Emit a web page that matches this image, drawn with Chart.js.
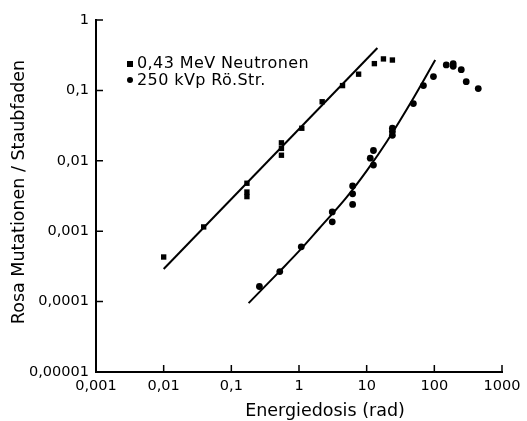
<!DOCTYPE html>
<html><head><meta charset="utf-8">
<script src="https://cdn.jsdelivr.net/npm/chart.js@4"></script>
<style>html,body{margin:0;padding:0;background:#fff}#c{display:block}</style>
</head><body>
<canvas id="c" width="527" height="421"></canvas>
<script>
const FONT = "'DejaVu Sans', sans-serif";
const xTicks = [0.001, 0.01, 0.1, 1, 10, 100, 1000];
const xTickLabels = ['0,001', '0,01', '0,1', '1', '10', '100', '1000'];
const yTicks = [0.00001, 0.0001, 0.001, 0.01, 0.1, 1];
const yTickLabels = ['0,00001', '0,0001', '0,001', '0,01', '0,1', '1'];

const neutronDose = [0.01, 0.039, 0.17, 0.17, 0.17, 0.55, 0.55, 0.55, 1.1, 2.2, 4.4, 7.6, 13, 17.7, 24];
const neutronMut  = [0.00043, 0.00115, 0.0048, 0.0036, 0.0031, 0.018, 0.015, 0.012, 0.029, 0.069, 0.117, 0.17, 0.24, 0.28, 0.27];

const xrayDose = [0.26, 0.52, 1.08, 3.1, 3.1, 6.2, 6.2, 6.2, 11.3, 12.6, 12.6, 24, 24, 24, 49, 69, 97, 150, 190, 190, 250, 296, 446];
const xrayMut  = [0.000164, 0.000267, 0.0006, 0.00188, 0.00136, 0.0044, 0.0034, 0.0024, 0.0109, 0.014, 0.0087, 0.029, 0.026, 0.023, 0.065, 0.117, 0.157, 0.23, 0.24, 0.22, 0.197, 0.133, 0.106];

const neutronFitDose = [0.01, 14.4];
const neutronFitMut  = [0.00029, 0.40];
const xrayFitDose = [0.18, 0.5, 1, 2, 5, 10, 20, 50, 103];
const xrayFitMut  = [0.000095, 0.00026, 0.00052, 0.0011, 0.003, 0.0072, 0.019, 0.08, 0.27];

const legendLabels = ['0,43 MeV Neutronen', '250 kVp Rö.Str.'];
const xTitle = 'Energiedosis (rad)';
const yTitle = 'Rosa Mutationen / Staubfaden';

const pts = (xs, ys) => xs.map((x, i) => ({x, y: ys[i]}));

const decor = {
  id: 'decor',
  afterDraw(chart) {
    const ctx = chart.ctx, xs = chart.scales.x, ys = chart.scales.y;
    const a = chart.chartArea;
    ctx.save();
    ctx.strokeStyle = '#000'; ctx.lineWidth = 1.5;
    ctx.beginPath();
    xTicks.forEach(v => { if (v === xTicks[0]) return; const p = xs.getPixelForValue(v); ctx.moveTo(p, a.bottom); ctx.lineTo(p, a.bottom - 7); });
    yTicks.forEach(v => { if (v === yTicks[0]) return; const p = ys.getPixelForValue(v); ctx.moveTo(a.left, p); ctx.lineTo(a.left + 7, p); });
    ctx.stroke();
    ctx.fillStyle = '#000';
    // legend
    ctx.font = '16px ' + FONT;
    try { ctx.letterSpacing = '0.4px'; } catch (e) {}
    ctx.textBaseline = 'alphabetic';
    ctx.textAlign = 'left';
    ctx.fillRect(127, 61, 6, 6);
    ctx.fillText(legendLabels[0], 137, 68);
    ctx.beginPath(); ctx.arc(130, 80, 3, 0, Math.PI * 2); ctx.fill();
    ctx.fillText(legendLabels[1], 137, 85);
    // axis titles
    ctx.font = '17.5px ' + FONT;
    try { ctx.letterSpacing = '0px'; } catch (e) {}
    ctx.textAlign = 'center';
    ctx.fillText(xTitle, 325, 416);
    ctx.translate(24, 192);
    ctx.rotate(-Math.PI / 2);
    ctx.fillText(yTitle, 0, 0);
    ctx.restore();
  }
};

new Chart(document.getElementById('c'), {
  type: 'scatter',
  data: {
    datasets: [
      { data: pts(neutronFitDose, neutronFitMut), showLine: true, borderColor: '#000', borderWidth: 2, pointRadius: 0 },
      { data: pts(xrayFitDose, xrayFitMut), showLine: true, borderColor: '#000', borderWidth: 2, pointRadius: 0, cubicInterpolationMode: 'monotone' },
      { data: pts(neutronDose, neutronMut), pointStyle: 'rect', pointRadius: 3.8, backgroundColor: '#000', borderColor: '#000', borderWidth: 0 },
      { data: pts(xrayDose, xrayMut), pointStyle: 'circle', pointRadius: 3.4, backgroundColor: '#000', borderColor: '#000', borderWidth: 0 }
    ]
  },
  options: {
    responsive: false, animation: false, devicePixelRatio: 1,
    layout: { padding: { left: 0, right: 25, top: 20, bottom: 0 } },
    plugins: { legend: { display: false }, tooltip: { enabled: false } },
    scales: {
      x: {
        type: 'logarithmic', min: 0.001, max: 1000,
        afterBuildTicks: s => { s.ticks = xTicks.map(v => ({ value: v, major: true })); },
        afterFit: s => { s.height = 49; },
        ticks: { autoSkip: false, maxRotation: 0, padding: 6, color: '#000', font: { family: FONT, size: 14.5 }, callback: (v, i) => xTickLabels[i] },
        grid: { display: true, drawOnChartArea: false, drawTicks: false },
        border: { display: true, color: '#000', width: 2 }
      },
      y: {
        type: 'logarithmic', min: 0.00001, max: 1,
        afterBuildTicks: s => { s.ticks = yTicks.map(v => ({ value: v, major: true })); },
        afterFit: s => { s.width = 96; },
        ticks: { autoSkip: false, padding: 7, color: '#000', font: { family: FONT, size: 14.5 }, callback: (v, i) => yTickLabels[i] },
        grid: { display: true, drawOnChartArea: false, drawTicks: false },
        border: { display: true, color: '#000', width: 2 }
      }
    }
  },
  plugins: [decor]
});
</script>
</body></html>
